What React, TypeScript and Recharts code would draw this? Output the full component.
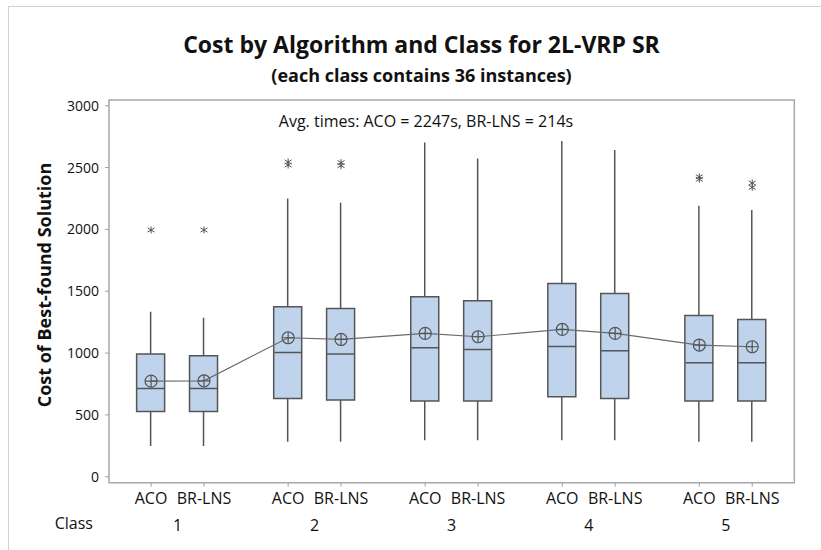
import {
  ComposedChart,
  Bar,
  Line,
  Scatter,
  XAxis,
  YAxis,
  ReferenceArea,
  Label,
} from 'recharts';

// categories
const algorithms = ['ACO', 'BR-LNS'];
const classes = ['1', '2', '3', '4', '5'];

// box statistics, in order ACO1, BR1, ACO2, BR2, ... ACO5, BR5
const whiskerLow = [248, 248, 283, 283, 296, 296, 296, 296, 283, 283];
const q1 = [528, 528, 633, 620, 612, 612, 647, 633, 612, 612];
const median = [714, 714, 1005, 992, 1043, 1029, 1054, 1019, 922, 922];
const q3 = [992, 978, 1374, 1361, 1455, 1423, 1563, 1482, 1304, 1272];
const whiskerHigh = [1334, 1285, 2250, 2215, 2703, 2574, 2714, 2641, 2191, 2156];
const means = [773, 776, 1124, 1110, 1159, 1132, 1191, 1159, 1065, 1051];
const outliers = [[1995], [1995], [2520, 2545], [2515, 2540], [], [], [], [], [2405, 2425], [2340, 2375]];

const yTicks = [0, 500, 1000, 1500, 2000, 2500, 3000];
const yDomain: [number, number] = [-48, 3046];
const xDomain: [number, number] = [0.5, 5.5];

// half distance between the two boxes of a class, in class units
const OFFSET = 0.193;

const FONT = '"Open Sans", "Noto Sans", sans-serif';
const BOX_FILL = '#bfd3ed';
const EDGE = '#555';

const table = classes.flatMap((c, ci) =>
  algorithms.map((a, ai) => {
    const i = ci * 2 + ai;
    return {
      x: ci + 1 + (ai === 0 ? -OFFSET : OFFSET),
      alg: a,
      whisker: [whiskerLow[i], whiskerHigh[i]],
      box: [q1[i], q3[i]],
      median: median[i],
      mean: means[i],
    };
  })
);

const outlierData = outliers.flatMap((vals, i) => vals.map(v => ({ x: table[i].x, y: v })));

const algTicks = table.map(d => d.x);
const classTicks = classes.map((_, i) => i + 1);

const WhiskerShape = (props: any) => {
  const { x, y, width, height } = props;
  const cx = x + width / 2;
  const top = Math.min(y, y + height);
  const bottom = Math.max(y, y + height);
  return <line x1={cx} x2={cx} y1={top} y2={bottom} stroke={EDGE} strokeWidth={1.5} />;
};

const MedianShape = (props: any) => {
  const { cx, cy } = props;
  return <line x1={cx - 14} x2={cx + 14} y1={cy} y2={cy} stroke={EDGE} strokeWidth={1.5} />;
};

const MeanDot = (props: any) => {
  const { cx, cy, index } = props;
  return (
    <g key={`mean-${index}`}>
      <circle cx={cx} cy={cy} r={6} fill="none" stroke={EDGE} strokeWidth={1.2} />
      <line x1={cx - 6} x2={cx + 6} y1={cy} y2={cy} stroke={EDGE} strokeWidth={1.2} />
      <line x1={cx} x2={cx} y1={cy - 6} y2={cy + 6} stroke={EDGE} strokeWidth={1.2} />
    </g>
  );
};

const Asterisk = (props: any) => {
  const { cx, cy } = props;
  const r = 3.5;
  return (
    <g stroke="#555" strokeWidth={1}>
      <line x1={cx} x2={cx} y1={cy - r} y2={cy + r} />
      <line x1={cx - r} x2={cx + r} y1={cy - r * 0.6} y2={cy + r * 0.6} />
      <line x1={cx - r} x2={cx + r} y1={cy + r * 0.6} y2={cy - r * 0.6} />
    </g>
  );
};

export default function App() {
  return (
    <div
      style={{
        position: 'absolute',
        left: 0,
        top: 0,
        width: 821,
        height: 550,
        overflow: 'hidden',
        background: '#fff',
        fontFamily: FONT,
        color: '#111',
      }}
    >
      <div
        style={{
          position: 'absolute',
          left: 8,
          top: 6,
          width: 900,
          height: 700,
          border: '1px solid #d0d0d0',
        }}
      />
      <div
        style={{
          position: 'absolute',
          left: 0,
          width: 843,
          top: 33,
          textAlign: 'center',
          fontSize: 23,
          lineHeight: '23px',
          fontWeight: 700,
          whiteSpace: 'nowrap',
        }}
      >
        Cost by Algorithm and Class for 2L-VRP SR
      </div>
      <div
        style={{
          position: 'absolute',
          left: 0,
          width: 843,
          top: 66,
          textAlign: 'center',
          fontSize: 18,
          lineHeight: '18px',
          fontWeight: 700,
          whiteSpace: 'nowrap',
        }}
      >
        (each class contains 36 instances)
      </div>
      <div
        style={{
          position: 'absolute',
          left: 44,
          top: 285,
          transform: 'translate(-50%, -50%) rotate(-90deg)',
          fontSize: 18,
          fontWeight: 700,
          whiteSpace: 'nowrap',
        }}
      >
        Cost of Best-found Solution
      </div>

      <ComposedChart
        width={821}
        height={550}
        data={table}
        margin={{ top: 100, right: 26.7, bottom: 14.3, left: 49 }}
        style={{ position: 'absolute', left: 0, top: 0 }}
      >
        <XAxis
          dataKey="x"
          type="number"
          domain={xDomain}
          ticks={algTicks}
          allowDataOverflow
          height={28}
          axisLine={false}
          tickSize={4}
          tickMargin={6}
          tickLine={{ stroke: '#a0a0a0' }}
          tick={{ fontSize: 16, fill: '#111', fontFamily: FONT }}
          tickFormatter={(v: number) => (v % 1 > 0.5 ? algorithms[0] : algorithms[1])}
        />
        <XAxis
          xAxisId="cls"
          dataKey="x"
          type="number"
          domain={xDomain}
          ticks={classTicks}
          allowDataOverflow
          height={25}
          axisLine={false}
          tickLine={false}
          tickSize={0}
          tickMargin={9}
          tick={{ fontSize: 16, fill: '#111', fontFamily: FONT }}
          tickFormatter={(v: number) => classes[v - 1]}
        >
          <Label value="Class" position="left" offset={16} style={{ fontSize: 16, fill: '#111', fontFamily: FONT }} />
        </XAxis>
        <XAxis xAxisId="w" dataKey="x" type="number" domain={xDomain} allowDataOverflow hide />
        <YAxis
          type="number"
          domain={yDomain}
          ticks={yTicks}
          allowDataOverflow
          width={60}
          axisLine={false}
          tickSize={4}
          tickMargin={6}
          tickLine={{ stroke: '#a0a0a0' }}
          tick={{ fontSize: 14, fill: '#111', fontFamily: FONT }}
        />

        <Bar xAxisId="w" dataKey="whisker" barSize={2} shape={WhiskerShape} isAnimationActive={false} />
        <Bar dataKey="box" barSize={28} fill={BOX_FILL} stroke={EDGE} strokeWidth={1.5} isAnimationActive={false} />
        <Scatter data={table} dataKey="median" shape={MedianShape} isAnimationActive={false} />
        <Line
          dataKey="mean"
          stroke="#6a6a6a"
          strokeWidth={1.2}
          dot={MeanDot}
          activeDot={false}
          isAnimationActive={false}
        />
        <Scatter data={outlierData} dataKey="y" shape={Asterisk} isAnimationActive={false} />
        <ReferenceArea
          x1={xDomain[0]}
          x2={xDomain[1]}
          y1={yDomain[0]}
          y2={yDomain[1]}
          fill="none"
          stroke="#a8a8a8"
          strokeWidth={1.5}
          ifOverflow="visible"
        />
      </ComposedChart>

      <div
        style={{
          position: 'absolute',
          left: 0,
          width: 852,
          top: 113,
          textAlign: 'center',
          fontSize: 16,
          lineHeight: '16px',
          whiteSpace: 'nowrap',
        }}
      >
        Avg. times: ACO = 2247s, BR-LNS = 214s
      </div>
    </div>
  );
}
